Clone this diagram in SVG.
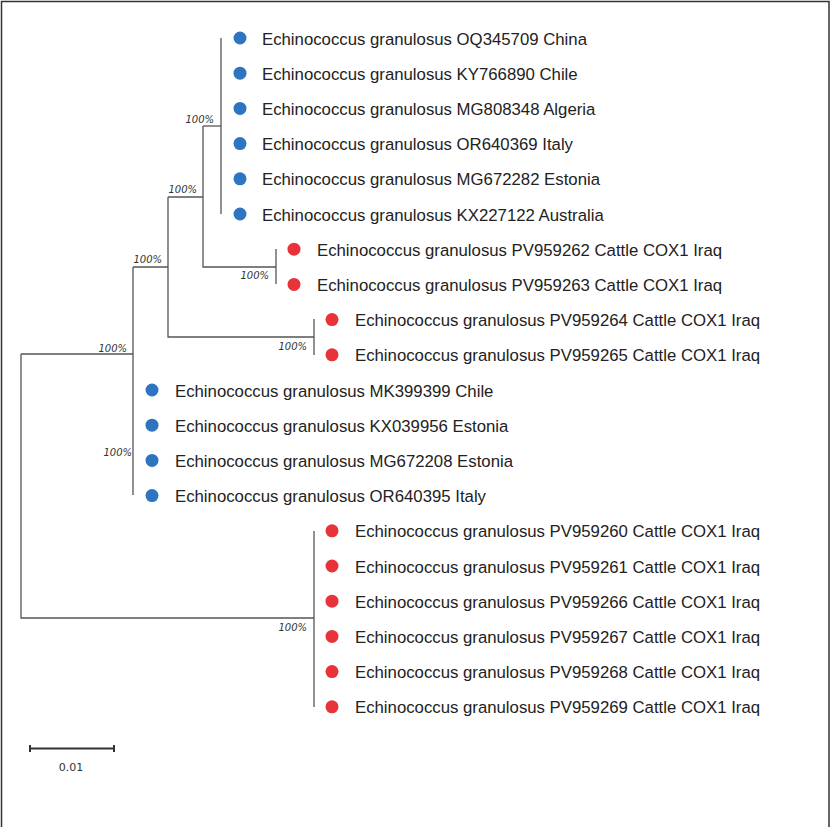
<svg xmlns="http://www.w3.org/2000/svg" width="831" height="827" viewBox="0 0 831 827">
<style>
.br{stroke:#555;stroke-width:1.3;fill:none}
.lb{font-family:"Liberation Sans",Arial,sans-serif;font-size:16.75px;fill:#222}
.bs{font-family:"DejaVu Sans","Liberation Sans",sans-serif;font-size:10px;font-style:italic;fill:#333;text-anchor:end}
.b{fill:#2e75c1}
.r{fill:#e9333a}
</style>
<rect x="0" y="0" width="831" height="827" fill="#fff"/>
<path d="M1.5,830 V1.5 H829 V830" fill="none" stroke="#333" stroke-width="1.5"/>
<g id="connectors">
<path class="br" d="M221,38 V214"/>
<path class="br" d="M203,126 H221"/>
<path class="br" d="M203,126 V267 H276"/>
<path class="br" d="M276,249 V284"/>
<path class="br" d="M168,197 H203"/>
<path class="br" d="M168,197 V337 H314"/>
<path class="br" d="M314,319 V355"/>
<path class="br" d="M133,267 H168"/>
<path class="br" d="M133,267 V495"/>
<path class="br" d="M21,354 H133"/>
<path class="br" d="M21,354 V618 H314"/>
<path class="br" d="M314,531 V707"/>
</g>
<g id="bootstrap">
<text class="bs" x="214" y="123">100%</text>
<text class="bs" x="197" y="193">100%</text>
<text class="bs" x="269" y="279">100%</text>
<text class="bs" x="162" y="263">100%</text>
<text class="bs" x="307" y="350">100%</text>
<text class="bs" x="127" y="352">100%</text>
<text class="bs" x="132" y="456">100%</text>
<text class="bs" x="307" y="631">100%</text>
</g>
<g id="leaf1"><circle class="b" cx="240" cy="38" r="6.5"/><text class="lb" x="262" y="44.5">Echinococcus granulosus OQ345709 China</text></g>
<g id="leaf2"><circle class="b" cx="240" cy="73.2" r="6.5"/><text class="lb" x="262" y="79.7">Echinococcus granulosus KY766890 Chile</text></g>
<g id="leaf3"><circle class="b" cx="240" cy="108.4" r="6.5"/><text class="lb" x="262" y="114.9">Echinococcus granulosus MG808348 Algeria</text></g>
<g id="leaf4"><circle class="b" cx="240" cy="143.6" r="6.5"/><text class="lb" x="262" y="150.1">Echinococcus granulosus OR640369 Italy</text></g>
<g id="leaf5"><circle class="b" cx="240" cy="178.8" r="6.5"/><text class="lb" x="262" y="185.3">Echinococcus granulosus MG672282 Estonia</text></g>
<g id="leaf6"><circle class="b" cx="240" cy="214" r="6.5"/><text class="lb" x="262" y="220.5">Echinococcus granulosus KX227122 Australia</text></g>
<g id="leaf7"><circle class="r" cx="294" cy="249.2" r="6.5"/><text class="lb" x="317" y="255.7">Echinococcus granulosus PV959262 Cattle COX1 Iraq</text></g>
<g id="leaf8"><circle class="r" cx="294" cy="284.4" r="6.5"/><text class="lb" x="317" y="290.9">Echinococcus granulosus PV959263 Cattle COX1 Iraq</text></g>
<g id="leaf9"><circle class="r" cx="332" cy="319.6" r="6.5"/><text class="lb" x="355" y="326.1">Echinococcus granulosus PV959264 Cattle COX1 Iraq</text></g>
<g id="leaf10"><circle class="r" cx="332" cy="354.8" r="6.5"/><text class="lb" x="355" y="361.3">Echinococcus granulosus PV959265 Cattle COX1 Iraq</text></g>
<g id="leaf11"><circle class="b" cx="152" cy="390" r="6.5"/><text class="lb" x="175" y="396.5">Echinococcus granulosus MK399399 Chile</text></g>
<g id="leaf12"><circle class="b" cx="152" cy="425.2" r="6.5"/><text class="lb" x="175" y="431.7">Echinococcus granulosus KX039956 Estonia</text></g>
<g id="leaf13"><circle class="b" cx="152" cy="460.4" r="6.5"/><text class="lb" x="175" y="466.9">Echinococcus granulosus MG672208 Estonia</text></g>
<g id="leaf14"><circle class="b" cx="152" cy="495.6" r="6.5"/><text class="lb" x="175" y="502.1">Echinococcus granulosus OR640395 Italy</text></g>
<g id="leaf15"><circle class="r" cx="332" cy="530.8" r="6.5"/><text class="lb" x="355" y="537.3">Echinococcus granulosus PV959260 Cattle COX1 Iraq</text></g>
<g id="leaf16"><circle class="r" cx="332" cy="566" r="6.5"/><text class="lb" x="355" y="572.5">Echinococcus granulosus PV959261 Cattle COX1 Iraq</text></g>
<g id="leaf17"><circle class="r" cx="332" cy="601.2" r="6.5"/><text class="lb" x="355" y="607.7">Echinococcus granulosus PV959266 Cattle COX1 Iraq</text></g>
<g id="leaf18"><circle class="r" cx="332" cy="636.4" r="6.5"/><text class="lb" x="355" y="642.9">Echinococcus granulosus PV959267 Cattle COX1 Iraq</text></g>
<g id="leaf19"><circle class="r" cx="332" cy="671.6" r="6.5"/><text class="lb" x="355" y="678.1">Echinococcus granulosus PV959268 Cattle COX1 Iraq</text></g>
<g id="leaf20"><circle class="r" cx="332" cy="706.8" r="6.5"/><text class="lb" x="355" y="713.3">Echinococcus granulosus PV959269 Cattle COX1 Iraq</text></g>
<g id="scalebar">
<path d="M30,748.5 H114 M30,745 V752 M114,745 V752" stroke="#333" stroke-width="2" fill="none"/>
<text x="71" y="771" text-anchor="middle" font-family="'DejaVu Sans','Liberation Sans',sans-serif" font-size="11" fill="#333">0.01</text>
</g>
</svg>
